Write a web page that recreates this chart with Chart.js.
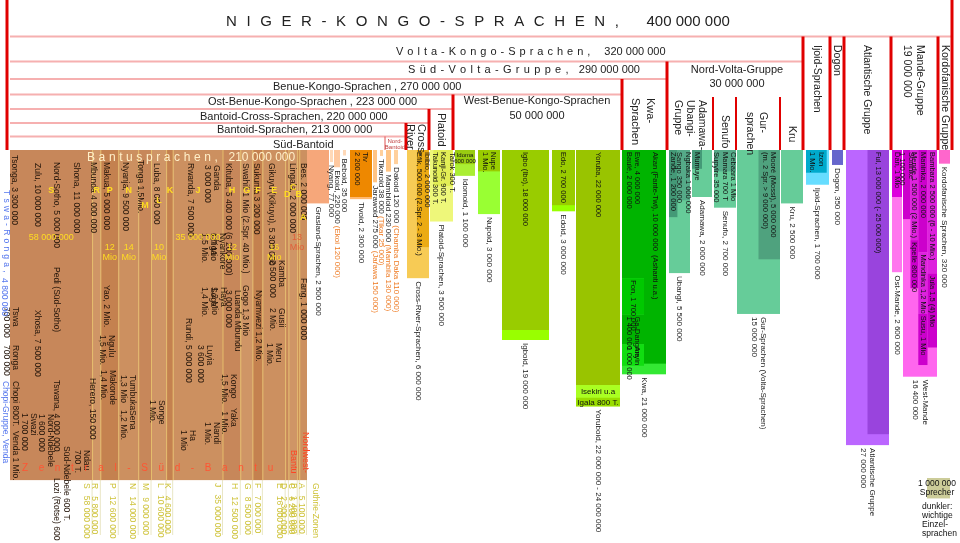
<!DOCTYPE html>
<html lang="de">
<head>
<meta charset="utf-8">
<title>Niger-Kongo-Sprachen</title>
<script src="https://cdn.jsdelivr.net/npm/chart.js@4.4.1/dist/chart.umd.min.js"></script>
<style>
  html, body { margin: 0; padding: 0; background: #fff; }
  #wrap { width: 960px; height: 543px; position: relative; }
</style>
</head>
<body>
<div id="wrap"><canvas id="sprachenChart"></canvas></div>
<script>
// Sprecherzahlen in Millionen - die Fläche einer Säule entspricht den Sprechern
const FLAECHE_PRO_MIO = 470;
const OBEN = 150;

// Kopfzeilen (Hierarchie)
const ebenenNamen = ['Niger-Kongo-Sprachen', 'Volta-Kongo-Sprachen', 'Süd-Volta-Gruppe', 'Benue-Kongo-Sprachen',
  'Ost-Benue-Kongo-Sprachen', 'Bantoid-Cross-Sprachen', 'Bantoid-Sprachen', 'Süd-Bantoid'];
const ebenenSprecher = [400, 320, 290, 270, 223, 220, 213, null];

// Bantu: Guthrie-Zonen
const bantuZonen = ['S', 'R', 'P', 'N', 'M', 'L', 'K', 'J', 'H', 'G', 'F', 'E', 'D', 'C', 'B', 'A'];
const bantuZonenSprecher = [58, 5.8, 12.6, 14, 9, 10.6, 4.6, 35, 12.5, 8.5, 7, 16, 2.3, 6.2, 1.4, 5.1];
const bantuZonenKurz = ['58 000 000', '', '12\nMio', '14\nMio', '', '10\nMio', '', '35 000 000', '12\nMio', '', '', '16\nMio', '', '', '', ''];

// Bantu: Einzelsprachen (Beschriftung)
const bantuSprachen = ['Tsonga, 3 300 000', 'Zulu, 10 000 000', 'Nord-Sotho, 5 000 000', 'Shona, 11 000 000',
  'Mbunda 4 000 000', 'Makua, 5 000 000', 'Nyanja, 9 500 000', 'Tonga 1,5Mio.', 'Luba, 8 000 000',
  'Rwanda, 7 500 000', 'Ganda\n3 000 000', 'Kituba, 5 400 000 (6 200 000)', 'Swahili 1 Mio (2.Spr. 40 Mio.)',
  'Sukuma 3 200 000', 'Gikuyu (Kikuyu), 5 300 000', 'Lingala, 2 000 000', 'Bes. 2 000 000',
  'Pedi (Süd-Sotho)', 'Xhosa, 7 500 000', 'Tswana, 4 000 000', 'Tswa\n700 000', 'Ronga\n700 000',
  'Chopi 800T.', 'Venda 1 Mio.', 'Swazi\n1 700 000', 'Nord-Ndebele\n1 600 000', 'Süd-Ndebele 600 T.',
  'Lozi (Rotse) 600 T.', 'Ndau\n700 T.', 'Herero, 150 000', 'Yao, 2 Mio.', 'Ngulu\n1,5 Mio.',
  'Makonde\n1,4 Mio.', 'Tumbuka\n1,3 Mio', 'Sena\n1,2 Mio.', 'Songe\n1 Mio.', 'Rundi, 5 000 000',
  'Chiga\n1,5 Mio.', 'Nyankore\n1,7 Mio', 'Soga\n1,4 Mio.', 'Haya\n1,2 Mio', 'Luyia\n3 600 000', 'Ha\n1 Mio',
  'Nandi\n1 Mio.', 'Kongo    Yaka\n1,5 Mio.   1 Mio.', 'Luanda Mbundu\n3 000 000', 'Gogo 1,3 Mio',
  'Nyamwezi 1,2 Mio.', 'Kamba\n2 500 000', 'Gusii\n2 Mio.', 'Meru\n1 Mio.', 'Fang, 1 000 000'];

// Weitere Gruppen
const gruppenNamen = ['Grasland-Sprachen', 'Nyang', 'Ekoid', 'Beboid', 'Tivoid', 'Jarawoid', 'Tikaroid', 'Mambiloid',
  'Dakoid', 'Cross-River-Sprachen', 'Platoid-Sprachen', 'Idomoid', 'Nupoid', 'Igboid', 'Edoid', 'Yoruboid', 'Kwa',
  'Ubangi', 'Adamawa', 'Senufo', 'Gur-Sprachen', 'Kru', 'Ijoid-Sprachen', 'Dogon', 'Atlantische Gruppe',
  'Ost-Mande', 'West-Mande', 'Kordofanische Sprachen'];
const gruppenSprecher = [2.5, 0.077, 0.22, 0.035, 2.3, 0.275, 0.038, 0.23, 0.12, 6, 3.5, 1.1, 3, 19, 3, 24, 21,
  5.5, 2, 2.7, 15, 2.5, 1.7, 0.35, 27, 2.6, 16.4, 0.32];
const gruppenBeschriftung = ['Grasland-Sprachen, 2 500 000', 'Nyang, 77 000', 'Ekoid, 220 000', 'Beboid, 35 000',
  'Tivoid, 2 300 000', 'Jarawoid 275 000', 'Tikaroid 38 000', 'Mambiloid 230 000', 'Dakoid 120 000',
  'Cross-River-Sprachen, 6 000 000', 'Platoid-Sprachen, 3 500 000', 'Idomoid, 1 100 000', 'Nupoid, 3 000 000',
  'Igboid, 19 000 000', 'Edoid, 3 000 000', 'Yoruboid, 22 000 000 - 24 000 000', 'Kwa, 21 000 000',
  'Ubangi, 5 500 000', 'Adamawa, 2 000 000', 'Senufo, 2 700 000', 'Gur-Sprachen (Volta-Sprachen)\n15 000 000',
  'Kru, 2 500 000', 'Ijoid-Sprachen, 1 700 000', 'Dogon, 350 000', 'Atlantische Gruppe\n27 000 000',
  'Ost-Mande, 2 600 000', 'West-Mande\n16 400 000', 'Kordofanische Sprachen, 320 000'];
const gruppenZusatz = ['', '', ' (Ekoi 120 000)', '', '', ' (Jarawa 150 000)', ' (Tikar 25 000)',
  ' (Mambila 130 000)', ' (Chamba Daka 110 000)', '', '', '', '', '', '', '', '', '', '', '', '', '', '', '', '', '', '', ''];

// Wichtige Einzelsprachen innerhalb der Gruppen
const sprachenNamen = ['Tiv\n2 200 000', 'Ibibio, 2 000 000\nEfik, 500 000 (2.Spr. 2 - 3 Mio.)',
  'Tarok 300 T.\nKanji-Gr. 900 T.\nTakunoid 300 T.', 'Idoma\n600 000', 'Nupe\n1 Mio.', 'Igbo (Ibo), 18 000 000',
  'Edo, 2 700 000', 'Yoruba, 22 000 000', 'Isekiri u.a', 'Igala 800 T.', 'Ewe, 4 000 000\nBaulé, 2 000 000',
  'Fon, 1 700 000', 'Ga-Dangme\n1 400 000', 'Anyin\n1 000 000', 'Akan (Fante-Twi), 10 000 000  (Ashanti u.a.)',
  'Zande, 1 200 000', 'Ngbaka 1 000 000\nSango 350 000', 'Mumuye', 'Cebaara 1 Mio\nMamara 700 T\nSupyire 35 000',
  'Mooré (Mossi), 5 000 000\n(m. 2 Spr. > 9 000 000)', 'Izon\n1 Mio.', 'Ful, 13 000 000 (- 25 000 000)',
  'Dan, 1 Mio', 'Soninke\n1 100 000', 'Mende 1 500 000 (2 Mio.)', 'Kpelle 800 000', 'Maninka, 2 000 000',
  'Mandinka 1,2 Mio', 'Susu, 1 Mio', 'Bambara 2 500 000 (6 - 10 Mio.)', 'Jula 1,5 (4) Mio'];
const sprachenSprecher = [2.2, 2.5, 1.5, 0.6, 1, 18, 2.7, 22, 1.2, 0.8, 6, 1.7, 1.4, 1, 10, 1.2, 1.35, 0.4, 1, 5,
  1, 13, 1, 1.1, 1.5, 0.8, 2, 1.2, 1, 2.5, 1.5];
const sprachenGruppe = [4, 9, 10, 11, 12, 13, 14, 15, 15, 15, 16, 16, 16, 16, 16, 17, 17, 18, 19, 20, 22, 24, 25,
  26, 26, 26, 26, 26, 26, 26, 26];

// ---- Layout (keine Daten) ----
const bantuLinks = 10, bantuBreite = 297;
const bantuFarben = ['#c7875a', '#cf9566', '#c4814f', '#cc9060'];
const bantuBuchstabeY = [193, 193, 193, 193, 208, 203, 193, 193, 193, 193, 193, 193, 197, 190, 197, 220];
const bantuSprachenPos = [[14, 155], [37, 163], [56, 162], [76, 162], [93, 162], [106, 162], [125, 162], [140, 160],
  [156, 163], [190, 163], [212, 165], [228, 163], [245, 163], [256, 163], [271, 163], [292, 163], [303, 163],
  [56, 267], [37, 310], [56, 380], [11, 307], [11, 345], [15, 381], [15, 431], [29, 413], [46, 414], [66, 446],
  [56, 478], [82, 450], [92, 378], [106, 285], [107, 335], [108, 370], [128, 375], [128, 410], [157, 400],
  [188, 318], [209, 233], [218, 233], [209, 287], [219, 287], [205, 345], [188, 430], [212, 422], [229, 374],
  [233, 290], [245, 285], [258, 290], [277, 260], [277, 308], [274, 343], [303, 278]];
const gruppenAbstand = [0, 1, 1, 3, 4, 1, 3, 3, 3, 9, 1, 2, 3, 2, 3, 1, 2, 3, 2, 2, 1, 1, 3, 3, 3, 3, 1, 2];
const gruppenBreite = [22, 3, 6, 3, 22, 4, 3, 5, 4, 22, 23, 20, 22, 47, 23, 44, 44, 21, 20, 22, 43, 22, 23, 11, 43, 10, 34, 11];
const gruppenFarbe = ['#f6a77a', '#ffd9b8', '#ffc9a0', '#ffd9b8', '#ffb870', '#ffc484', '#ffd09c', '#ffc484',
  '#ffd09c', '#f7cb55', '#eef77a', '#aaee33', '#99ff33', '#99ff00', '#99ff00', '#aaee22', '#33e833', '#66cc99',
  '#66cc99', '#66cc99', '#66cc99', '#66cc99', '#66ddff', '#6666cc', '#bb66ff', '#ff77ee', '#ff66ee', '#ff66cc'];
const sprachenSpalte = [[0, 1], [0.45, 1], [0.15, 1], [0, 1], [0, 1], [0, 1], [0, 1], [0, 1], [0, 1], [0, 1],
  [0, 0.5], [0, 0.5], [0, 0.5], [0, 0.5], [0.5, 1], [0, 0.4], [0.4, 1], [0, 0.5], [0, 1], [0.5, 1], [0, 0.9],
  [0.5, 1], [0, 1], [0, 0.22], [0.22, 0.45], [0.22, 0.45], [0.45, 0.72], [0.45, 0.72], [0.45, 0.72], [0.72, 1], [0.72, 1]];
const sprachenFarbe = ['#ee8800', '#ebab14', '#e2ee55', '#99cc11', '#99cc00', '#99cc00', '#99cc00', '#99c400',
  '#aaff22', '#99dd00', '#00b400', '#00c800', '#00b400', '#11dd11', '#00b400', '#449977', '#55aa88', '#449977',
  '#55aa88', '#4fa27e', '#00aacc', '#9944dd', '#dd00dd', '#cc00cc', '#dd22dd', '#cc00cc', '#cc00cc', '#dd22dd',
  '#cc00cc', '#dd22dd', '#cc00cc'];
const sprachenQuer = [3, 8, 9];
const ebenenRechts = [952, 803, 667, 622, 453, 429, 406, 385];
const kopfZeilen = [0, 36.5, 61.5, 79, 94.5, 109, 123, 136.5, 150];

const SCHRIFT = '"Liberation Sans", Arial, Helvetica, sans-serif';

function mio(v) {
    return String(Math.round(v * 1e6)).replace(/\B(?=(\d{3})+(?!\d))/g, ' ');
}

function schrift(size, bold) {
    return (bold ? 'bold ' : '') + size + 'px ' + SCHRIFT;
}

// waagerechter Text, mehrzeilig
function hText(ctx, text, x, y, size, farbe, align, bold, lh) {
    ctx.font = schrift(size, bold);
    ctx.fillStyle = farbe;
    ctx.textAlign = align || 'left';
    ctx.textBaseline = 'alphabetic';
    String(text).split('\n').forEach((t, i) => ctx.fillText(t, x, y + i * (lh || size + 1)));
}

// senkrechter Text (von oben nach unten gelesen), erste Zeile rechts
function vText(ctx, text, cx, top, size, farbe, lh, zusatz, zusatzFarbe) {
    const zeilen = String(text).split('\n');
    lh = lh || size + 1.5;
    ctx.save();
    ctx.font = schrift(size);
    ctx.textBaseline = 'middle';
    ctx.textAlign = 'left';
    zeilen.forEach((t, i) => {
        const x = cx + ((zeilen.length - 1) / 2 - i) * lh;
        ctx.save();
        ctx.translate(x, top);
        ctx.rotate(Math.PI / 2);
        ctx.fillStyle = farbe;
        ctx.fillText(t, 0, 0);
        if (zusatz && i === 0) {
            ctx.fillStyle = zusatzFarbe;
            ctx.fillText(zusatz, ctx.measureText(t).width, 0);
        }
        ctx.restore();
    });
    ctx.restore();
}

// gesperrter Text
function gesperrt(ctx, text, x, y, size, farbe, abstand) {
    ctx.font = schrift(size);
    ctx.fillStyle = farbe;
    ctx.textAlign = 'left';
    ctx.textBaseline = 'alphabetic';
    for (const ch of text) {
        ctx.fillText(ch, x, y);
        x += ctx.measureText(ch).width + abstand;
    }
    return x;
}

const sprachenZeichnen = {
    id: 'sprachenZeichnen',
    afterDraw(chart) {
        const ctx = chart.ctx;
        const xs = chart.scales.x, ys = chart.scales.y;
        const px = v => xs.getPixelForValue(v);
        const py = v => ys.getPixelForValue(v);
        const hoehe = (m, breite) => m * FLAECHE_PRO_MIO / breite;
        const rect = (x0, x1, y0, y1, farbe) => {
            ctx.fillStyle = farbe;
            ctx.fillRect(px(x0), py(y0), px(x1) - px(x0), py(y1) - py(y0));
        };
        const linie = (x0, y0, x1, y1, farbe, w) => {
            ctx.strokeStyle = farbe;
            ctx.lineWidth = w;
            ctx.beginPath();
            ctx.moveTo(px(x0), py(y0));
            ctx.lineTo(px(x1), py(y1));
            ctx.stroke();
        };
        ctx.save();

        // Bantu-Block: Zonen gleich hoch, Breite nach Sprechern
        const bantuSumme = bantuZonenSprecher.reduce((a, b) => a + b, 0);
        const bantuUnten = OBEN + hoehe(bantuSumme, bantuBreite);
        const zMitte = [], zRechts = [];
        let x = bantuLinks;
        bantuZonenSprecher.forEach((v, i) => {
            const b = v / bantuSumme * bantuBreite;
            rect(x, x + b, OBEN, OBEN + hoehe(v, b), bantuFarben[i % bantuFarben.length]);
            zMitte.push(x + b / 2);
            zRechts.push(x + b);
            x += b;
        });
        zRechts.forEach((r, i) => {
            if (i < zRechts.length - 1) linie(r, OBEN, r, bantuUnten, '#e6bd6c', 1);
            linie(r - 0.5, bantuUnten, r - 0.5, 535, 'rgba(215,210,150,0.55)', 1);
        });

        // Gruppen-Säulen
        const gLinks = [], gUnten = [];
        let gx = bantuLinks + bantuBreite;
        gruppenSprecher.forEach((v, i) => {
            gx += gruppenAbstand[i];
            gLinks.push(gx);
            gUnten.push(OBEN + hoehe(v, gruppenBreite[i]));
            rect(gx, gx + gruppenBreite[i], OBEN, gUnten[i], gruppenFarbe[i]);
            gx += gruppenBreite[i];
        });

        // Einzelsprachen (dunkler)
        const stapel = {};
        const sprachenLabel = [];
        sprachenSprecher.forEach((v, i) => {
            const g = sprachenGruppe[i];
            const [f0, f1] = sprachenSpalte[i];
            const b = gruppenBreite[g] * (f1 - f0);
            const x0 = gLinks[g] + gruppenBreite[g] * f0;
            const key = g + ':' + f0;
            const y0 = stapel[key] || OBEN;
            const y1 = y0 + hoehe(v, b);
            stapel[key] = y1;
            rect(x0, x0 + b, y0, y1, sprachenFarbe[i]);
            sprachenLabel.push([i, x0 + b / 2, y0, y1]);
        });
        sprachenLabel.forEach(([i, cx, y0, y1]) => {
            if (sprachenQuer.includes(i)) {
                const n = sprachenNamen[i].split('\n').length;
                const size = n > 1 ? 6 : 8;
                hText(ctx, sprachenNamen[i], px(cx), py((y0 + y1) / 2) + 3 - (n - 1) * 3.5, size, '#111', 'center', false, 6.5);
            } else {
                vText(ctx, sprachenNamen[i], px(cx), py(y0) + 2, 7.5, '#111', 8.5);
            }
        });

        // Gruppen-Beschriftung unter den Säulen
        gruppenBeschriftung.forEach((t, i) => {
            const cx = gLinks[i] + gruppenBreite[i] / 2;
            vText(ctx, t, px(cx), py(gUnten[i]) + 3, 8, '#222', 9.5, gruppenZusatz[i], '#ee7a22');
        });

        // Bantu-Beschriftung
        let bx = gesperrt(ctx, 'Bantusprachen,', px(87), py(161), 12, '#ffefc8', 3.6);
        hText(ctx, mio(bantuSumme > 0 ? 210 : 0), bx + 7, py(161), 12, '#ffefc8');
        bantuSprachen.forEach((t, i) => {
            const [sx, sy] = bantuSprachenPos[i];
            vText(ctx, t, px(sx), py(sy), 8.5, '#24150a', 9.5);
        });
        bantuZonen.forEach((z, i) => {
            hText(ctx, z, px(zMitte[i]), py(bantuBuchstabeY[i]), 9, '#ffdd22', 'center', true);
            if (bantuZonenKurz[i]) {
                hText(ctx, bantuZonenKurz[i], px(zMitte[i]), py(bantuZonenKurz[i].includes('\n') ? 250 : 240), 9, '#ffdd22', 'center', false, 10);
            }
            vText(ctx, z + '   ' + mio(bantuZonenSprecher[i]), px(zRechts[i] - 6), py(bantuUnten) + 3, 8.5, '#cfc33a');
        });
        hText(ctx, '13\nMio', px(297), py(240), 9, '#e0603a', 'center', false, 10);
        vText(ctx, 'Guthrie-Zonen', px(315), py(bantuUnten) + 3, 8.5, '#cfc33a');
        gesperrt(ctx, 'Zentral-Süd-Bantu', px(22), py(bantuUnten - 9), 10, '#ff5533', 10.6);
        vText(ctx, 'Nordwest-', px(305), py(432), 9, '#ff4422');
        vText(ctx, 'Bantu', px(293), py(450), 9, '#ff4422');

        // blaue Beschriftung links
        ctx.save();
        ctx.translate(px(4), py(190));
        ctx.rotate(Math.PI / 2);
        ctx.textBaseline = 'middle';
        bx = gesperrt(ctx, 'Tswa-Ronga,', 0, 0, 8.5, '#5577ee', 3.2);
        ctx.textBaseline = 'middle';
        ctx.fillText(' 4 800 000', bx, 0);
        ctx.restore();
        vText(ctx, 'Chopi-Gruppe, Venda', px(5), py(381), 8.5, '#5577ee');

        // Kopfzeilen: rosa Linien und rote Trennstriche
        for (let i = 1; i < kopfZeilen.length - 1; i++) {
            linie(10, kopfZeilen[i], ebenenRechts[i - 1], kopfZeilen[i], '#f6b0b0', 2);
        }
        linie(7, 0, 7, OBEN, '#e00000', 3);
        linie(952, 0, 952, OBEN, '#e00000', 3);
        for (let i = 1; i < 7; i++) linie(ebenenRechts[i], kopfZeilen[i], ebenenRechts[i], OBEN, '#e00000', 3);
        [830, 844, 891, 938].forEach(v => linie(v, kopfZeilen[1], v, OBEN, '#e00000', 3));
        [713, 736, 780].forEach(v => linie(v, 97, v, OBEN, '#e00000', 2));
        linie(385, kopfZeilen[7], 385, OBEN, '#e05050', 1);

        // Kopfzeilen: Texte
        bx = gesperrt(ctx, 'NIGER-KONGO-SPRACHEN,', px(226), py(26), 15, '#222', 9.6);
        hText(ctx, mio(ebenenSprecher[0]), bx + 18, py(26), 15, '#222');
        bx = gesperrt(ctx, 'Volta-Kongo-Sprachen,', px(396), py(55), 11, '#222', 4);
        hText(ctx, mio(ebenenSprecher[1]), bx + 10, py(55), 11, '#222');
        bx = gesperrt(ctx, 'Süd-Volta-Gruppe,', px(408), py(73), 11, '#222', 4.3);
        hText(ctx, mio(ebenenSprecher[2]), bx + 6, py(73), 11, '#222');
        hText(ctx, ebenenNamen[3] + ' , ' + mio(ebenenSprecher[3]), px(273), py(90), 11, '#222');
        hText(ctx, ebenenNamen[4] + ' , ' + mio(ebenenSprecher[4]), px(208), py(105), 11, '#222');
        hText(ctx, ebenenNamen[5] + ', ' + mio(ebenenSprecher[5]), px(200), py(120), 11, '#222');
        hText(ctx, ebenenNamen[6] + ', ' + mio(ebenenSprecher[6]), px(217), py(133), 11, '#222');
        hText(ctx, ebenenNamen[7], px(273), py(148), 11, '#222');
        hText(ctx, 'Nord-\nBantoid', px(395), py(143), 6, '#c04040', 'center', false, 6);
        hText(ctx, 'West-Benue-Kongo-Sprachen\n50 000 000', px(537), py(104), 11, '#222', 'center', false, 15);
        hText(ctx, 'Nord-Volta-Gruppe\n30 000 000', px(737), py(73), 11, '#222', 'center', false, 14);
        vText(ctx, 'Cross-\nRiver', px(416), py(124), 11, '#222', 11);
        vText(ctx, 'Platoid', px(441), py(113), 11, '#222');
        vText(ctx, 'Kwa-\nSprachen', px(643), py(98), 11, '#222', 15);
        vText(ctx, 'Adamawa-\nUbangi-\nGruppe', px(690), py(100), 10.5, '#222', 12);
        vText(ctx, 'Senufo', px(725), py(115), 10.5, '#222');
        vText(ctx, 'Gur-\nsprachen', px(756), py(112), 10.5, '#222', 13);
        vText(ctx, 'Kru', px(792), py(126), 10.5, '#222');
        vText(ctx, 'Ijoid-Sprachen', px(817), py(45), 10.5, '#222');
        vText(ctx, 'Dogon', px(837), py(45), 10.5, '#222');
        vText(ctx, 'Atlantische Gruppe', px(867), py(45), 10.5, '#222');
        vText(ctx, 'Mande-Gruppe\n19 000 000', px(913), py(45), 10.5, '#222', 13);
        vText(ctx, 'Kordofanische Gruppe', px(945), py(45), 10.5, '#222');

        // Legende: Fläche für 1 000 000 Sprecher
        rect(927, 950, 478, 478 + hoehe(1, 23), '#cccc99');
        hText(ctx, '1 000 000\nSprecher', px(937), py(486), 8.5, '#111', 'center', false, 9);
        hText(ctx, 'dunkler:\nwichtige\nEinzel-\nsprachen', px(922), py(509), 8.5, '#111', 'left', false, 9);

        ctx.restore();
    }
};

new Chart(document.getElementById('sprachenChart'), {
    type: 'scatter',
    data: { datasets: [{ data: [], showLine: false }] },
    options: {
        responsive: true,
        maintainAspectRatio: false,
        animation: false,
        events: [],
        layout: { padding: 0 },
        plugins: { legend: { display: false }, tooltip: { enabled: false } },
        scales: {
            x: { type: 'linear', min: 0, max: 960, display: false },
            y: { type: 'linear', min: 0, max: 543, reverse: true, display: false }
        }
    },
    plugins: [sprachenZeichnen]
});
</script>
</body>
</html>
